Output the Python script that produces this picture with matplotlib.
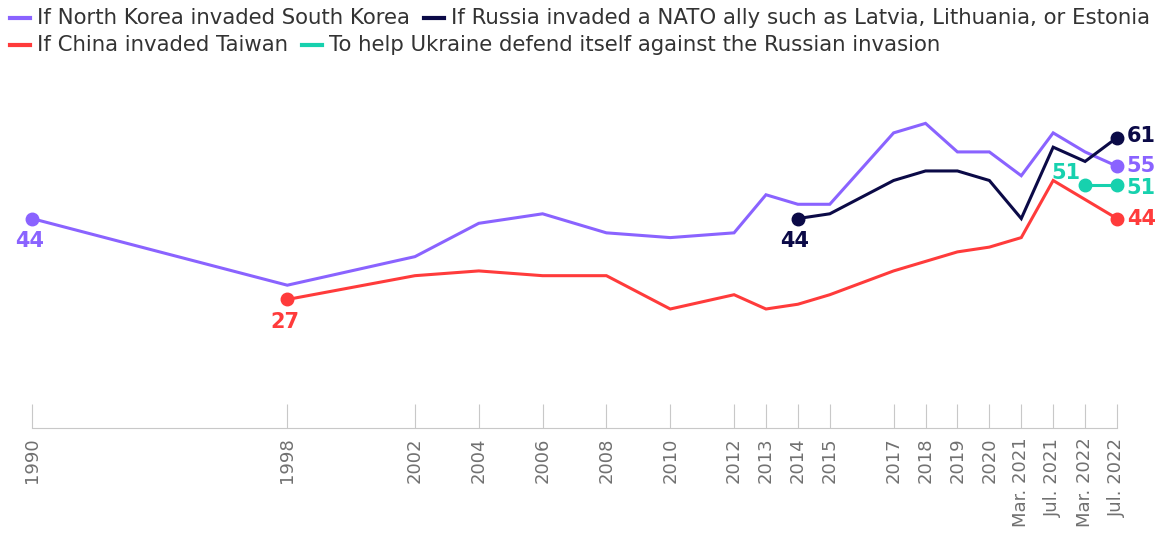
import numpy as np
import matplotlib
matplotlib.use("Agg")
import matplotlib.pyplot as plt
from matplotlib.lines import Line2D

# survey waves and results (%)
waves = ['1990', '1998', '2002', '2004', '2006', '2008', '2010', '2012', '2013',
         '2014', '2015', '2017', '2018', '2019', '2020', 'Mar. 2021', 'Jul. 2021',
         'Mar. 2022', 'Jul. 2022']
nan = np.nan
north_korea = [44, 30, 36, 43, 45, 41, 40, 41, 49, 47, 47, 62, 64, 58, 58, 53, 62, 58, 55]
russia = [nan] * 9 + [44, 45, 52, 54, 54, 52, 44, 59, 56, 61]
china = [nan, 27, 32, 33, 32, 32, 25, 28, 25, 26, 28, 33, 35, 37, 38, 40, 52, 48, 44]
ukraine = [nan] * 17 + [51, 51]

PURPLE = '#8A63FF'
NAVY = '#0B0A47'
RED = '#FF3B3B'
TEAL = '#17D1AE'


def wave_pos(labels):
    # plain years sit on a year scale, later waves are one step apart
    pos = []
    for lbl in labels:
        if lbl.isdigit() and (not pos or int(lbl) - 1990 > pos[-1]):
            pos.append(int(lbl) - 1990)
        else:
            pos.append(pos[-1] + 1)
    return pos


x = np.array(wave_pos(waves), dtype=float)

W, H = 1174, 538
fig = plt.figure(figsize=(W / 100, H / 100), dpi=100)
ax = fig.add_axes([32 / W, 1 - 428 / H, (1117 - 32) / W, 328 / H])
ax.set_xlim(x[0], x[-1])
ax.set_ylim(0, 328 / 4.76)

series = [
    (north_korea, PURPLE, 'If North Korea invaded South Korea'),
    (russia, NAVY, 'If Russia invaded a NATO ally such as Latvia, Lithuania, or Estonia'),
    (china, RED, 'If China invaded Taiwan'),
    (ukraine, TEAL, 'To help Ukraine defend itself against the Russian invasion'),
]

for vals, col, _ in series:
    v = np.array(vals, dtype=float)
    ax.plot(x, v, color=col, lw=2.2, clip_on=False, solid_joinstyle='miter')
    idx = np.where(~np.isnan(v))[0]
    ends = [idx[0], idx[-1]]
    ax.plot(x[ends], v[ends], 'o', color=col, ms=9, clip_on=False)

lab = dict(fontsize=15, fontweight='semibold', textcoords='offset points')


def label_below(vals, col):
    v = np.array(vals, dtype=float)
    i = np.where(~np.isnan(v))[0][0]
    ax.annotate(f'{v[i]:.0f}', (x[i], v[i]), xytext=(-2, -16), color=col,
                ha='center', va='center', **lab)


def label_right(vals, col, dy=0):
    v = np.array(vals, dtype=float)
    i = np.where(~np.isnan(v))[0][-1]
    ax.annotate(f'{v[i]:.0f}', (x[i], v[i]), xytext=(7, dy), color=col,
                ha='left', va='center', **lab)


label_below(north_korea, PURPLE)
label_below(china, RED)
label_below(russia, NAVY)
label_right(russia, NAVY, 1)
label_right(north_korea, PURPLE)
label_right(ukraine, TEAL, -2)
label_right(china, RED)
uk = np.array(ukraine, dtype=float)
i0 = np.where(~np.isnan(uk))[0][0]
ax.annotate(f'{uk[i0]:.0f}', (x[i0], uk[i0]), xytext=(-3, 9), color=TEAL,
            ha='right', va='center', **lab)

for s in ['left', 'right', 'top']:
    ax.spines[s].set_visible(False)
ax.spines['bottom'].set_color('#C8C8C8')
ax.set_yticks([])
ax.set_xticks(x)
ax.set_xticklabels(waves, rotation=90, fontsize=13, color='#707070')
ax.tick_params(axis='x', direction='in', length=17, width=0.8, color='#C8C8C8', pad=7)
for t in ax.get_xticklabels():
    t.set_va('top')

# legend, flowed left to right in two rows
renderer = fig.canvas.get_renderer()
rows = [[series[0], series[1]], [series[2], series[3]]]
for r, row in enumerate(rows):
    yy = 1 - (18 + 27 * r) / H
    xx = 10
    for _, col, name in row:
        fig.add_artist(Line2D([xx / W, (xx + 20) / W], [yy, yy], color=col, lw=3,
                              transform=fig.transFigure))
        t = fig.text((xx + 27) / W, yy, name, fontsize=15.3, color='#333333',
                     ha='left', va='center')
        xx = t.get_window_extent(renderer).x1 + 14

fig.savefig('out.png', dpi=100)
